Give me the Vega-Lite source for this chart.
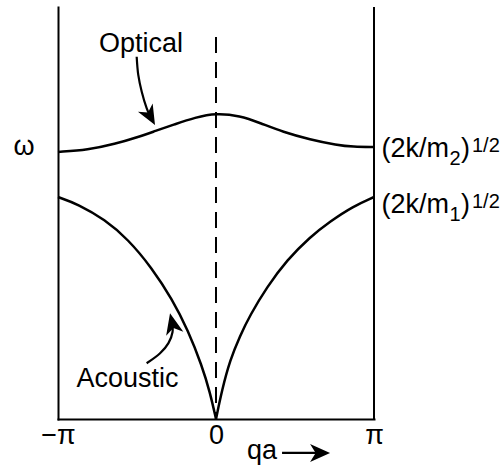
{
  "$schema": "https://vega.github.io/schema/vega-lite/v6.json",
  "width": 316,
  "height": 412,
  "autosize": {"type": "none"},
  "padding": {"left": 58, "top": 7, "right": 129, "bottom": 50},
  "background": "white",
  "config": {"view": {"stroke": null}, "font": "Liberation Sans"},
  "datasets": {
    "curves": [
      {"series": "optical", "u": -1, "w": 1.203},
      {"series": "optical", "u": -0.81, "w": 1.212},
      {"series": "optical", "u": -0.639, "w": 1.239},
      {"series": "optical", "u": -0.494, "w": 1.27},
      {"series": "optical", "u": -0.386, "w": 1.297},
      {"series": "optical", "u": -0.259, "w": 1.328},
      {"series": "optical", "u": -0.133, "w": 1.358},
      {"series": "optical", "u": 0, "w": 1.378},
      {"series": "optical", "u": 0.152, "w": 1.366},
      {"series": "optical", "u": 0.278, "w": 1.334},
      {"series": "optical", "u": 0.424, "w": 1.293},
      {"series": "optical", "u": 0.595, "w": 1.259},
      {"series": "optical", "u": 0.766, "w": 1.234},
      {"series": "optical", "u": 0.867, "w": 1.226},
      {"series": "optical", "u": 1, "w": 1.225},
      {"series": "acoustic-left", "u": -1, "w": 1.0},
      {"series": "acoustic-left", "u": -0.873, "w": 0.968},
      {"series": "acoustic-left", "u": -0.703, "w": 0.898},
      {"series": "acoustic-left", "u": -0.557, "w": 0.81},
      {"series": "acoustic-left", "u": -0.405, "w": 0.68},
      {"series": "acoustic-left", "u": -0.278, "w": 0.54},
      {"series": "acoustic-left", "u": -0.177, "w": 0.4},
      {"series": "acoustic-left", "u": -0.089, "w": 0.24},
      {"series": "acoustic-left", "u": -0.038, "w": 0.12},
      {"series": "acoustic-left", "u": 0, "w": 0},
      {"series": "acoustic-right", "u": 0, "w": 0},
      {"series": "acoustic-right", "u": 0.038, "w": 0.131},
      {"series": "acoustic-right", "u": 0.089, "w": 0.266},
      {"series": "acoustic-right", "u": 0.152, "w": 0.375},
      {"series": "acoustic-right", "u": 0.215, "w": 0.467},
      {"series": "acoustic-right", "u": 0.323, "w": 0.595},
      {"series": "acoustic-right", "u": 0.449, "w": 0.716},
      {"series": "acoustic-right", "u": 0.595, "w": 0.82},
      {"series": "acoustic-right", "u": 0.722, "w": 0.89},
      {"series": "acoustic-right", "u": 0.867, "w": 0.958},
      {"series": "acoustic-right", "u": 1, "w": 1.0}
    ],
    "dashed": [{"u": 0, "top": 1.721, "bottom": 0}],
    "frame": [{"u": 1, "top": 1.856, "bottom": 0}],
    "shafts": [
      {"arrow": "optical", "u": -0.502, "w": 1.632},
      {"arrow": "optical", "u": -0.492, "w": 1.55},
      {"arrow": "optical", "u": -0.47, "w": 1.474},
      {"arrow": "optical", "u": -0.439, "w": 1.4},
      {"arrow": "optical", "u": -0.418, "w": 1.365},
      {"arrow": "acoustic", "u": -0.439, "w": 0.251},
      {"arrow": "acoustic", "u": -0.354, "w": 0.296},
      {"arrow": "acoustic", "u": -0.301, "w": 0.342},
      {"arrow": "acoustic", "u": -0.275, "w": 0.392},
      {"arrow": "acoustic", "u": -0.278, "w": 0.437},
      {"arrow": "qa", "u": 0.418, "w": -0.153},
      {"arrow": "qa", "u": 0.646, "w": -0.153}
    ],
    "headOptical": [{"u": -0.386, "w": 1.324}],
    "headAcoustic": [{"u": -0.291, "w": 0.476}],
    "headQa": [{"u": 0.722, "w": -0.153}],
    "centerText": [
      {"t": "Optical", "u": -0.475, "w": 1.653},
      {"t": "Acoustic", "u": -0.56, "w": 0.144},
      {"t": "ω", "u": -1.215, "w": 1.189}
    ],
    "leftText": [
      {"t": "(2k/m", "u": 1.047, "w": 1.18},
      {"t": ")", "u": 1.551, "w": 1.18},
      {"t": "(2k/m", "u": 1.047, "w": 0.928},
      {"t": ")", "u": 1.551, "w": 0.928},
      {"t": "qa", "u": 0.196, "w": -0.178}
    ],
    "smallText": [
      {"t": "2", "u": 1.478, "w": 1.144},
      {"t": "1/2", "u": 1.62, "w": 1.203},
      {"t": "1", "u": 1.478, "w": 0.892},
      {"t": "1/2", "u": 1.62, "w": 0.95}
    ]
  },
  "encoding": {
    "x": {
      "field": "u",
      "type": "quantitative",
      "scale": {"domain": [-1, 1], "nice": false, "zero": false},
      "axis": {
        "values": [-1, 0, 1],
        "labelExpr": "datum.value < 0 ? '−π' : (datum.value > 0 ? 'π' : '0')",
        "title": null,
        "ticks": false,
        "tickSize": 0,
        "grid": false,
        "domainColor": "black",
        "domainWidth": 2,
        "domainCap": "square",
        "labelFontSize": 27,
        "labelFont": "Liberation Sans",
        "labelColor": "black",
        "labelPadding": 3,
        "labelFlush": false,
        "labelBound": false,
        "labelOverlap": false
      }
    },
    "y": {
      "field": "w",
      "type": "quantitative",
      "scale": {"domain": [0, 1.856], "nice": false, "zero": false},
      "axis": {
        "title": null,
        "labels": false,
        "ticks": false,
        "tickSize": 0,
        "grid": false,
        "domainColor": "black",
        "domainWidth": 2,
        "domainCap": "square"
      }
    }
  },
  "layer": [
    {
      "data": {"name": "curves"},
      "mark": {"type": "line", "interpolate": "basis", "color": "black", "strokeWidth": 2.5},
      "encoding": {"detail": {"field": "series"}}
    },
    {
      "data": {"name": "dashed"},
      "mark": {"type": "rule", "color": "black", "strokeWidth": 2, "strokeDash": [16, 9]},
      "encoding": {"y": {"field": "top", "type": "quantitative"}, "y2": {"field": "bottom"}}
    },
    {
      "data": {"name": "frame"},
      "mark": {"type": "rule", "color": "black", "strokeWidth": 2},
      "encoding": {"y": {"field": "top", "type": "quantitative"}, "y2": {"field": "bottom"}}
    },
    {
      "data": {"name": "shafts"},
      "mark": {"type": "line", "interpolate": "catmull-rom", "color": "black", "strokeWidth": 2.2},
      "encoding": {"detail": {"field": "arrow"}, "order": {"value": null}}
    },
    {
      "data": {"name": "headOptical"},
      "mark": {"type": "point", "shape": "M0,0 L0.42,1 L0,0.72 L-0.42,1 Z", "filled": true, "color": "black", "opacity": 1, "size": 1600, "angle": 151, "strokeWidth": 0}
    },
    {
      "data": {"name": "headAcoustic"},
      "mark": {"type": "point", "shape": "M0,0 L0.42,1 L0,0.72 L-0.42,1 Z", "filled": true, "color": "black", "opacity": 1, "size": 1764, "angle": 347, "strokeWidth": 0}
    },
    {
      "data": {"name": "headQa"},
      "mark": {"type": "point", "shape": "M0,0 L0.45,1 L0,0.72 L-0.45,1 Z", "filled": true, "color": "black", "opacity": 1, "size": 1600, "angle": 90, "strokeWidth": 0}
    },
    {
      "data": {"name": "centerText"},
      "mark": {"type": "text", "font": "Liberation Sans", "fontSize": 27, "color": "black", "align": "center", "baseline": "alphabetic"},
      "encoding": {"text": {"field": "t"}}
    },
    {
      "data": {"name": "leftText"},
      "mark": {"type": "text", "font": "Liberation Sans", "fontSize": 27, "color": "black", "align": "left", "baseline": "alphabetic"},
      "encoding": {"text": {"field": "t"}}
    },
    {
      "data": {"name": "smallText"},
      "mark": {"type": "text", "font": "Liberation Sans", "fontSize": 20, "color": "black", "align": "left", "baseline": "alphabetic"},
      "encoding": {"text": {"field": "t"}}
    }
  ]
}
